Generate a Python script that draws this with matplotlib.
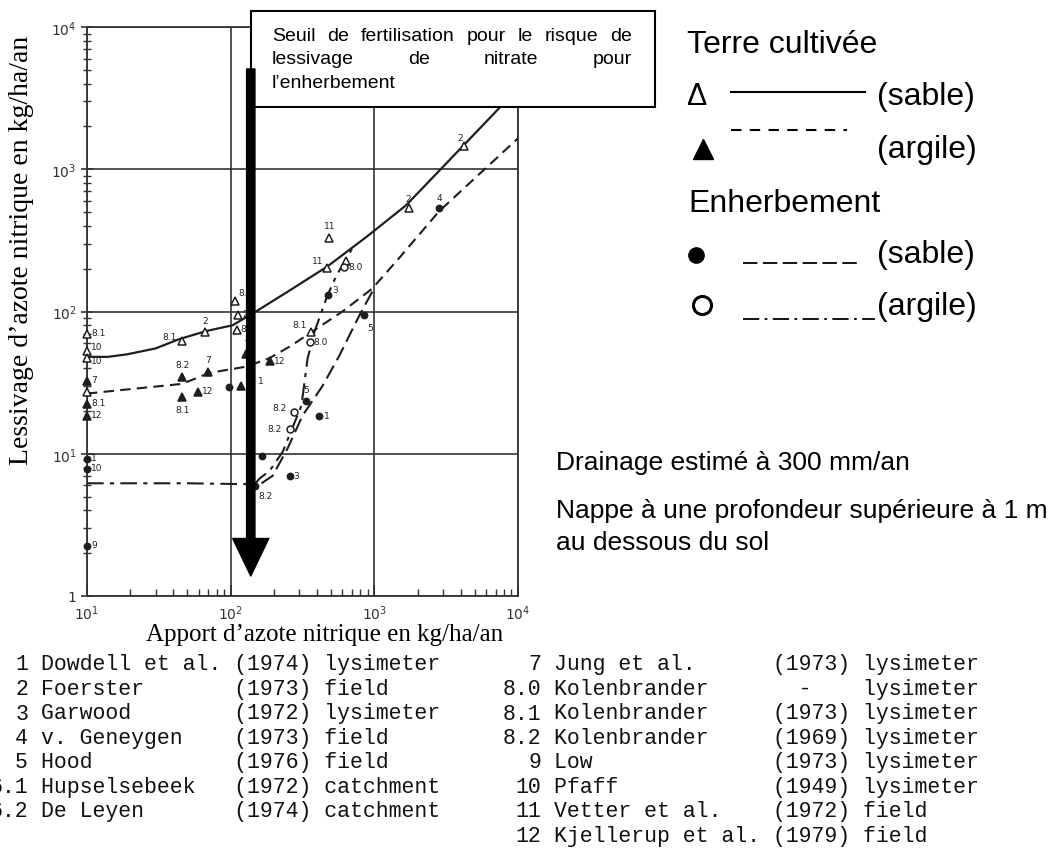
import matplotlib
matplotlib.use("Agg")
import matplotlib.pyplot as plt
from matplotlib.patches import Rectangle, FancyArrowPatch, ArrowStyle
from matplotlib.lines import Line2D
from matplotlib.ticker import NullFormatter
from matplotlib.transforms import blended_transform_factory

# curves: apport (kg/ha/an) -> lessivage (kg/ha/an)
cult_sable_x = [10, 14, 19, 30, 44, 68, 103, 150, 250, 470, 900, 1670, 4200, 10000]
cult_sable_y = [48, 48, 50, 55, 64, 73, 80, 100, 138, 207, 340, 560, 1480, 3700]
cult_argile_x = [10, 46, 71, 129, 186, 260, 353, 600, 968, 1480, 2820, 10000]
cult_argile_y = [26.5, 31, 37, 41, 47, 57, 70, 100, 145, 236, 506, 1650]
enh_sable_x = [164, 196, 250, 316, 436, 571, 787, 968]
enh_sable_y = [6.2, 7.0, 11, 18.5, 30, 49, 94, 138]
enh_argile_x = [10, 50, 147, 159, 187, 230, 311, 343, 383, 472, 545, 703]
enh_argile_y = [6.2, 6.2, 6.1, 6.7, 7.6, 10.3, 21.8, 46.7, 72, 130, 179, 278]

seuil = 138  # seuil de fertilisation (fleche)

# points (terre cultivee sable = triangle ouvert, argile = triangle plein)
otri_x = [10, 10, 10, 10, 46, 66, 108, 112, 110, 365, 487, 472, 630, 1750, 4220]
otri_y = [70, 53, 47, 27.3, 62.5, 72, 118, 95, 74, 72, 326, 201, 225, 531, 1452]
otri_lab = ['8.1', '10', '10', '', '8.1', '2', '8.1', '2', '8.1', '8.1', '11', '11', '', '2', '2']
ftri_x = [10, 10, 10, 46, 70, 59, 46, 118, 187, 128]
ftri_y = [32.7, 22.5, 18.5, 34.8, 37.8, 27.3, 25.2, 30, 45, 50]
ftri_lab = ['7', '8.1', '12', '8.2', '7', '12', '8.1', '1', '12', '7']
# enherbement sable = rond plein, argile = rond ouvert
fcirc_x = [10, 10, 10, 98, 164, 147, 257, 337, 415, 479, 850, 2820]
fcirc_y = [9.2, 7.8, 2.25, 29.6, 9.7, 5.96, 7.0, 23.6, 18.5, 130, 94, 531]
fcirc_lab = ['1', '10', '9', '', '1', '8.2', '3', '5', '1', '3', '5', '4']
ocirc_x = [354, 278, 257, 617]
ocirc_y = [61.5, 19.8, 15, 207]
ocirc_lab = ['8.0', '8.2', '8.2', '8.0']

x_ticks = [10, 100, 1000, 10000]
x_ticklabels = ['$10^1$', '$10^2$', '$10^3$', '$10^4$']
y_ticks = [1, 10, 100, 1000, 10000]
y_ticklabels = ['1', '$10^1$', '$10^2$', '$10^3$', '$10^4$']

refs_left_num = ['1', '2', '3', '4', '5', '6.1', '6.2']
refs_left_name = ['Dowdell et al.', 'Foerster', 'Garwood', 'v. Geneygen', 'Hood',
                  'Hupselsebeek', 'De Leyen']
refs_left_year = ['(1974)', '(1973)', '(1972)', '(1973)', '(1976)', '(1972)', '(1974)']
refs_left_kind = ['lysimeter', 'field', 'lysimeter', 'field', 'field', 'catchment', 'catchment']
refs_right_num = ['7', '8.0', '8.1', '8.2', '9', '10', '11', '12']
refs_right_name = ['Jung et al.', 'Kolenbrander', 'Kolenbrander', 'Kolenbrander', 'Low',
                   'Pfaff', 'Vetter et al.', 'Kjellerup et al.']
refs_right_year = ['(1973)', '  -', '(1973)', '(1969)', '(1973)', '(1949)', '(1972)', '(1979)']
refs_right_kind = ['lysimeter', 'lysimeter', 'lysimeter', 'lysimeter', 'lysimeter',
                   'lysimeter', 'field', 'field']

# label offsets in points (style only)
otri_off = [(3, 1), (3, 3), (3, -2), (3, 1), (-14, 3), (0, 8), (2, 6), (3, 1), (3, 1),
            (-14, 5), (0, 9), (-11, 6), (3, 1), (-3, 7), (-5, 6)]
ftri_off = [(3, 1), (3, 1), (3, 1), (0, 9), (0, 9), (3, 1), (0, -9), (12, 4), (3, 0), (0, 8)]
fcirc_off = [(3, 1), (3, 1), (3, 1), (3, 1), (-8, 3), (3, -7), (3, 0), (0, 8), (3, 0),
             (3, 4), (2, -9), (0, 8)]
ocirc_off = [(3, 0), (-16, 3), (-16, 0), (3, 0)]

W, H = 1058, 854
ink = '#1e1e1e'


def fx(px):
    return px / W


def fy(py):
    return 1 - py / H


fig = plt.figure(figsize=(W / 100, H / 100), dpi=100)
ax = fig.add_axes([fx(87), fy(597), (518 - 87) / W, (597 - 28) / H])
ax.set_xscale('log')
ax.set_yscale('log')
ax.set_xlim(10, 10000)
ax.set_ylim(1, 10000)

ax.grid(True, which='major', color='#333333', lw=1.2)
for s in ax.spines.values():
    s.set_color('#333333')
    s.set_linewidth(1.3)

ax.set_xticks(x_ticks)
ax.set_xticklabels(x_ticklabels)
ax.set_yticks(y_ticks)
ax.set_yticklabels(y_ticklabels)
ax.xaxis.set_minor_formatter(NullFormatter())
ax.yaxis.set_minor_formatter(NullFormatter())
ax.tick_params(axis='x', which='major', direction='in', length=8, width=1.2,
               colors='#333333', labelsize=10, pad=5)
ax.tick_params(axis='x', which='minor', direction='in', length=5, width=1, colors='#333333')
ax.tick_params(axis='y', which='major', direction='inout', length=9, width=1.2,
               colors='#333333', labelsize=10, pad=3)
ax.tick_params(axis='y', which='minor', direction='inout', length=6, width=1, colors='#333333')

# courbes
ax.plot(cult_sable_x, cult_sable_y, color=ink, lw=1.6, ls='-', zorder=3)
ax.plot(cult_argile_x, cult_argile_y, color=ink, lw=1.5, ls=(0, (5, 3)), zorder=3)
ax.plot(enh_sable_x, enh_sable_y, color=ink, lw=1.5, ls=(0, (7, 3)), zorder=3)
ax.plot(enh_argile_x, enh_argile_y, color=ink, lw=1.5, ls=(0, (8, 3, 2, 3)), zorder=3)


def points(xs, ys, labs, offs, marker, filled, ms):
    ax.plot(xs, ys, ls='none', marker=marker, ms=ms, mew=1.1, mec=ink,
            mfc=ink if filled else 'white', zorder=4, clip_on=False)
    for x, y, lab, off in zip(xs, ys, labs, offs):
        if lab:
            ax.annotate(lab, (x, y), xytext=off, textcoords='offset points',
                        fontsize=6.5, color='#222222',
                        ha='center' if off[0] == 0 else 'left', va='center', zorder=4)


points(otri_x, otri_y, otri_lab, otri_off, '^', False, 5.5)
points(ftri_x, ftri_y, ftri_lab, ftri_off, '^', True, 5.5)
points(fcirc_x, fcirc_y, fcirc_lab, fcirc_off, 'o', True, 4.5)
points(ocirc_x, ocirc_y, ocirc_lab, ocirc_off, 'o', False, 5)

# encadre
box = Rectangle((fx(251), fy(108)), (655 - 251) / W, (108 - 12) / H, transform=fig.transFigure,
                facecolor='white', edgecolor='black', lw=1.5, clip_on=False, zorder=5)
ax.add_patch(box)

# fleche du seuil
trans = blended_transform_factory(ax.transData, ax.transAxes)
arrow = FancyArrowPatch((seuil, (597 - 70) / 569), (seuil, (597 - 577) / 569),
                        transform=trans,
                        arrowstyle=ArrowStyle.Simple(head_length=27, head_width=26, tail_width=6),
                        mutation_scale=1, shrinkA=0, shrinkB=0, color='black',
                        clip_on=False, zorder=6)
ax.add_patch(arrow)

# texte justifie dans l'encadre
renderer = fig.canvas.get_renderer()
box_font = dict(family='Liberation Sans', fontsize=14, color='black', zorder=7)


def justified(words, x0, x1, base, justify=True):
    ts = [ax.text(0, 0, w, transform=fig.transFigure, va='baseline', ha='left',
                  clip_on=False, **box_font) for w in words]
    widths = [t.get_window_extent(renderer).width for t in ts]
    gap = (x1 - x0 - sum(widths)) / max(len(words) - 1, 1) if justify else 5.4
    x = x0
    for t, w in zip(ts, widths):
        t.set_position((fx(x), fy(base)))
        x += w + gap


justified('Seuil de fertilisation pour le risque de'.split(), 272, 632, 41)
justified('lessivage de nitrate pour'.split(), 272, 632, 64)
justified(['l’enherbement'], 272, 632, 88, justify=False)

# titres des axes
fig.text(fx(22), fy(250), 'Lessivage d’azote nitrique en kg/ha/an', rotation=90,
         ha='center', va='center', family='Liberation Serif', fontsize=20)
fig.text(fx(325), fy(635), 'Apport d’azote nitrique en kg/ha/an',
         ha='center', va='center', family='Liberation Serif', fontsize=18)

# legende a droite
sans = dict(family=['Liberation Sans', 'DejaVu Sans'], color='black')
fig.text(fx(687), fy(53), 'Terre cultivée', fontsize=23, va='baseline', **sans)
fig.text(fx(686), fy(105), 'Δ', fontsize=22, va='baseline', **sans)
fig.text(fx(877), fy(105), '(sable)', fontsize=23, va='baseline', **sans)
fig.text(fx(877), fy(158), '(argile)', fontsize=23, va='baseline', **sans)
fig.text(fx(688), fy(212), 'Enherbement', fontsize=23, va='baseline', **sans)
fig.text(fx(877), fy(263), '(sable)', fontsize=23, va='baseline', **sans)
fig.text(fx(877), fy(315), '(argile)', fontsize=23, va='baseline', **sans)
fig.add_artist(Line2D([fx(731), fx(865)], [fy(93), fy(93)], color='black', lw=1.5,
                      transform=fig.transFigure))
fig.add_artist(Line2D([fx(731), fx(847)], [fy(131), fy(131)], color='black', lw=1.5,
                      ls=(0, (5, 4)), transform=fig.transFigure))
fig.add_artist(Line2D([fx(743), fx(860)], [fy(264), fy(264)], color='black', lw=1.3,
                      ls=(0, (8, 3)), transform=fig.transFigure))
fig.add_artist(Line2D([fx(743), fx(875)], [fy(320), fy(320)], color='black', lw=1.3,
                      ls=(0, (9, 3, 1.5, 3)), transform=fig.transFigure))
fig.add_artist(Line2D([fx(703)], [fy(150)], marker='^', ms=15, color='black', ls='none',
                      transform=fig.transFigure))
fig.add_artist(Line2D([fx(696)], [fy(256)], marker='o', ms=11, color='black', ls='none',
                      transform=fig.transFigure))
fig.add_artist(Line2D([fx(702)], [fy(306)], marker='o', ms=13, mew=2.2, mec='black',
                      mfc='white', ls='none', transform=fig.transFigure))

fig.text(fx(556), fy(470), 'Drainage estimé à 300 mm/an', fontsize=19, va='baseline', **sans)
fig.text(fx(556), fy(518), 'Nappe à une profondeur supérieure à 1 m', fontsize=19,
         va='baseline', **sans)
fig.text(fx(556), fy(550), 'au dessous du sol', fontsize=19, va='baseline', **sans)

# references (texte dactylographie)
mono = dict(family='Liberation Mono', fontsize=15.5, color='#111111', va='center')
for i, (n, nm, yr, kd) in enumerate(zip(refs_left_num, refs_left_name, refs_left_year,
                                         refs_left_kind)):
    fig.text(fx(28), fy(665 + 24.5 * i), n, ha='right', **mono)
    fig.text(fx(41), fy(665 + 24.5 * i), f"{nm:<14} {yr:<6} {kd}", ha='left', **mono)
for i, (n, nm, yr, kd) in enumerate(zip(refs_right_num, refs_right_name, refs_right_year,
                                         refs_right_kind)):
    fig.text(fx(541), fy(665 + 24.5 * i), n, ha='right', **mono)
    fig.text(fx(554), fy(665 + 24.5 * i), f"{nm:<16} {yr:<6} {kd}", ha='left', **mono)

fig.savefig('out.png', dpi=100)
